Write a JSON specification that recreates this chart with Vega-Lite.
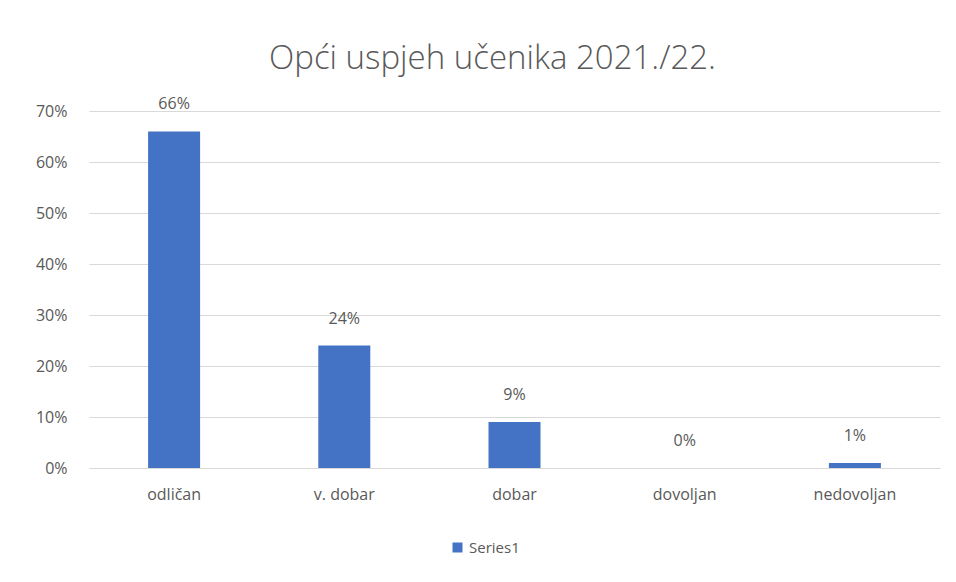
{
  "$schema": "https://vega.github.io/schema/vega-lite/v6.json",
  "autosize": {"type": "none"},
  "width": 851,
  "height": 357,
  "padding": {"left": 89, "top": 111, "right": 16, "bottom": 114},
  "background": "white",
  "title": {
    "text": "Opći uspjeh učenika 2021./22.",
    "fontSize": 33,
    "font": "Open Sans",
    "fontWeight": 300,
    "color": "#595959",
    "anchor": "middle",
    "dx": -22,
    "offset": 20
  },
  "data": {
    "values": [
      {"kategorija": "odličan", "udio": 0.66, "serija": "Series1"},
      {"kategorija": "v. dobar", "udio": 0.24, "serija": "Series1"},
      {"kategorija": "dobar", "udio": 0.09, "serija": "Series1"},
      {"kategorija": "dovoljan", "udio": 0.0, "serija": "Series1"},
      {"kategorija": "nedovoljan", "udio": 0.01, "serija": "Series1"}
    ]
  },
  "config": {
    "view": {"stroke": null},
    "font": "Open Sans",
    "axis": {"labelFont": "Open Sans", "labelColor": "#595959", "labelFontSize": 16}
  },
  "layer": [
    {
      "mark": {"type": "bar", "size": 52},
      "encoding": {
        "x": {
          "field": "kategorija",
          "type": "nominal",
          "sort": null,
          "title": null,
          "axis": {"labelAngle": 0, "ticks": false, "domain": false, "labelPadding": 18}
        },
        "y": {
          "field": "udio",
          "type": "quantitative",
          "scale": {"domain": [0, 0.7]},
          "title": null,
          "axis": {
            "format": ".0%",
            "values": [0, 0.1, 0.2, 0.3, 0.4, 0.5, 0.6, 0.7],
            "ticks": false,
            "domain": false,
            "gridColor": "#d9d9d9",
            "gridWidth": 1,
            "labelPadding": 22
          }
        },
        "color": {
          "field": "serija",
          "type": "nominal",
          "scale": {"range": ["#4472C4"]},
          "legend": {
            "title": null,
            "orient": "none",
            "legendX": 361,
            "legendY": 429,
            "symbolType": "square",
            "symbolSize": 100,
            "symbolOpacity": 1,
            "labelFontSize": 15,
            "labelColor": "#595959",
            "labelFont": "Open Sans"
          }
        }
      }
    },
    {
      "mark": {"type": "text", "baseline": "middle", "dy": -27, "fontSize": 16, "color": "#595959", "font": "Open Sans"},
      "encoding": {
        "x": {"field": "kategorija", "type": "nominal", "sort": null},
        "y": {"field": "udio", "type": "quantitative"},
        "text": {"field": "udio", "type": "quantitative", "format": ".0%"}
      }
    }
  ]
}
